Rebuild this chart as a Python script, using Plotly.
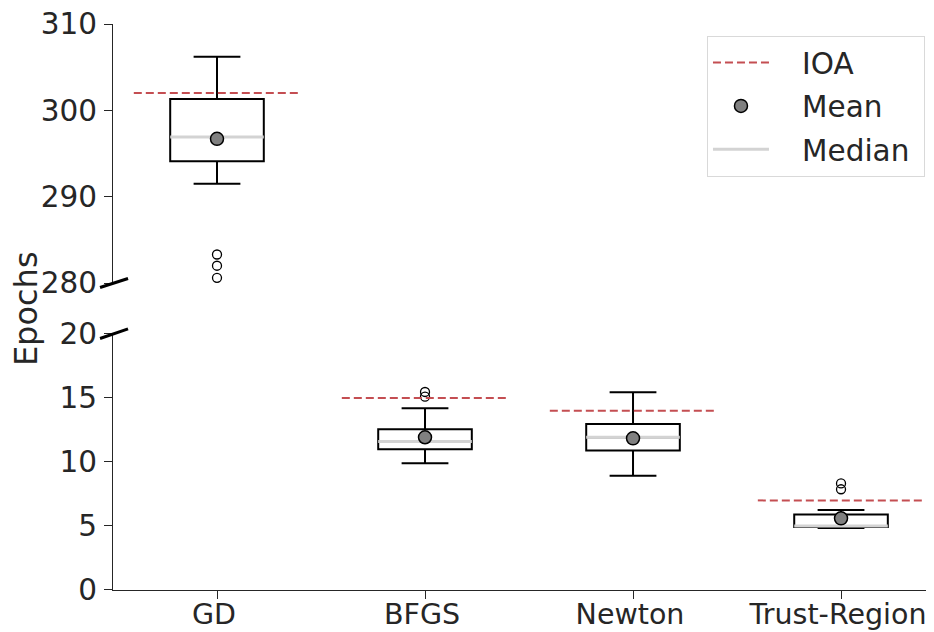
import plotly.graph_objects as go

categories = ["GD", "BFGS", "Newton", "Trust-Region"]
q1 = [294.1, 11.0, 10.9, 4.92]
median = [296.9, 11.6, 11.93, 5.0]
q3 = [301.3, 12.55, 12.97, 5.9]
lower = [291.5, 9.9, 8.93, 4.85]
upper = [306.2, 14.2, 15.45, 6.25]
means = [296.7, 11.93, 11.85, 5.6]
ioa = [302.0, 15.0, 14.0, 7.0]
outliers = [[283.3, 282.0, 280.6], [15.47, 15.1], [], [8.33, 7.87]]
panel = ["top", "bottom", "bottom", "bottom"]

BOX_W = 0.45
IOA_HALF = 0.4
TXT = "#262626"
FONT = "DejaVu Sans"
FS = 29.5
FS_X = 28.5
FS_LABEL = 32
PAD = "\u00a0\u00a0\u00a0"
TAIL = "\u00a0"

fig = go.Figure()

def axes_for(p):
    return ("x2", "y2") if p == "top" else ("x", "y")

shown = {"IOA": False, "Mean": False, "Median": False}

for i, cat in enumerate(categories):
    xa, ya = axes_for(panel[i])
    fig.add_trace(go.Box(
        x=[i], q1=[q1[i]], median=[median[i]], q3=[q3[i]],
        lowerfence=[lower[i]], upperfence=[upper[i]],
        width=BOX_W, whiskerwidth=0.5, fillcolor="white",
        line=dict(color="black", width=2), boxpoints=False,
        showlegend=False, xaxis=xa, yaxis=ya, hoverinfo="skip"))

for i, cat in enumerate(categories):
    xa, ya = axes_for(panel[i])
    if outliers[i]:
        fig.add_trace(go.Scatter(
            x=[i] * len(outliers[i]), y=outliers[i], mode="markers",
            marker=dict(symbol="circle-open", size=9, color="black",
                        line=dict(width=1.3, color="black")),
            showlegend=False, xaxis=xa, yaxis=ya))

for i, cat in enumerate(categories):
    xa, ya = axes_for(panel[i])
    fig.add_trace(go.Scatter(
        x=[i - BOX_W / 2, i + BOX_W / 2], y=[median[i], median[i]],
        mode="lines", line=dict(color="#d3d3d3", width=3),
        name=PAD + "Median" + TAIL, legendgroup="Median", legendrank=3,
        showlegend=not shown["Median"], xaxis=xa, yaxis=ya))
    shown["Median"] = True
    fig.add_trace(go.Scatter(
        x=[i - IOA_HALF, i + IOA_HALF], y=[ioa[i], ioa[i]],
        mode="lines", line=dict(color="#C44E52", width=2, dash="8px,4px"),
        name=PAD + "IOA" + TAIL, legendgroup="IOA", legendrank=1,
        showlegend=not shown["IOA"], xaxis=xa, yaxis=ya))
    shown["IOA"] = True
    fig.add_trace(go.Scatter(
        x=[i], y=[means[i]], mode="markers",
        marker=dict(symbol="circle", size=13, color="#808080",
                    line=dict(color="black", width=1.5)),
        name=PAD + "Mean" + TAIL, legendgroup="Mean", legendrank=2,
        showlegend=not shown["Mean"], xaxis=xa, yaxis=ya))
    shown["Mean"] = True

TOP_DOM = [0.5424, 1.0]
BOT_DOM = [0.0, 0.4523]
xr = [-0.5, 3.447]

axis_common = dict(showgrid=False, zeroline=False, showline=True, linecolor=TXT,
                   linewidth=1.3, ticks="outside", ticklen=8, tickwidth=1.3,
                   tickcolor=TXT, automargin=False, ticklabeloverflow="allow")

fig.update_layout(
    width=926, height=624,
    margin=dict(l=105, r=0, t=16, b=42),
    plot_bgcolor="white", paper_bgcolor="white",
    font=dict(family=FONT, size=FS, color=TXT),
    xaxis=dict(domain=[0, 1], range=xr, tickvals=list(range(len(categories))),
               ticktext=categories, anchor="y", ticklabelstandoff=-9,
               ticklabelshift=-3, tickfont=dict(family=FONT, size=FS_X, color=TXT),
               **axis_common),
    yaxis=dict(domain=BOT_DOM, range=[0, 20], tickvals=[0, 5, 10, 15, 20],
               anchor="x", ticklabelstandoff=1,
               tickfont=dict(family=FONT, size=FS, color=TXT), **axis_common),
    xaxis2=dict(domain=[0, 1], range=xr, anchor="y2", matches="x",
                showgrid=False, zeroline=False, showline=False,
                showticklabels=False, ticks="", automargin=False),
    yaxis2=dict(domain=TOP_DOM, range=[280, 310], tickvals=[280, 290, 300, 310],
                anchor="x2", ticklabelstandoff=1,
                tickfont=dict(family=FONT, size=FS, color=TXT), **axis_common),
    legend=dict(x=0.989, y=0.979, xanchor="right", yanchor="top",
                bgcolor="white", bordercolor="#d9d9d9", borderwidth=1,
                font=dict(family=FONT, size=FS, color=TXT),
                tracegroupgap=2, itemwidth=56),
    annotations=[dict(text="Epochs", xref="paper", yref="paper",
                      x=-0.106, y=0.498, xanchor="center", yanchor="middle",
                      textangle=-90, showarrow=False,
                      font=dict(family=FONT, size=FS_LABEL, color=TXT))],
    shapes=[
        dict(type="line", xref="paper", yref="paper", x0=-0.0158, x1=0.0183,
             y0=TOP_DOM[0] - 0.008, y1=TOP_DOM[0] + 0.008,
             line=dict(color="black", width=3)),
        dict(type="line", xref="paper", yref="paper", x0=-0.0158, x1=0.0183,
             y0=BOT_DOM[1] - 0.008, y1=BOT_DOM[1] + 0.009,
             line=dict(color="black", width=3)),
    ],
)

fig.write_html("out.html")
